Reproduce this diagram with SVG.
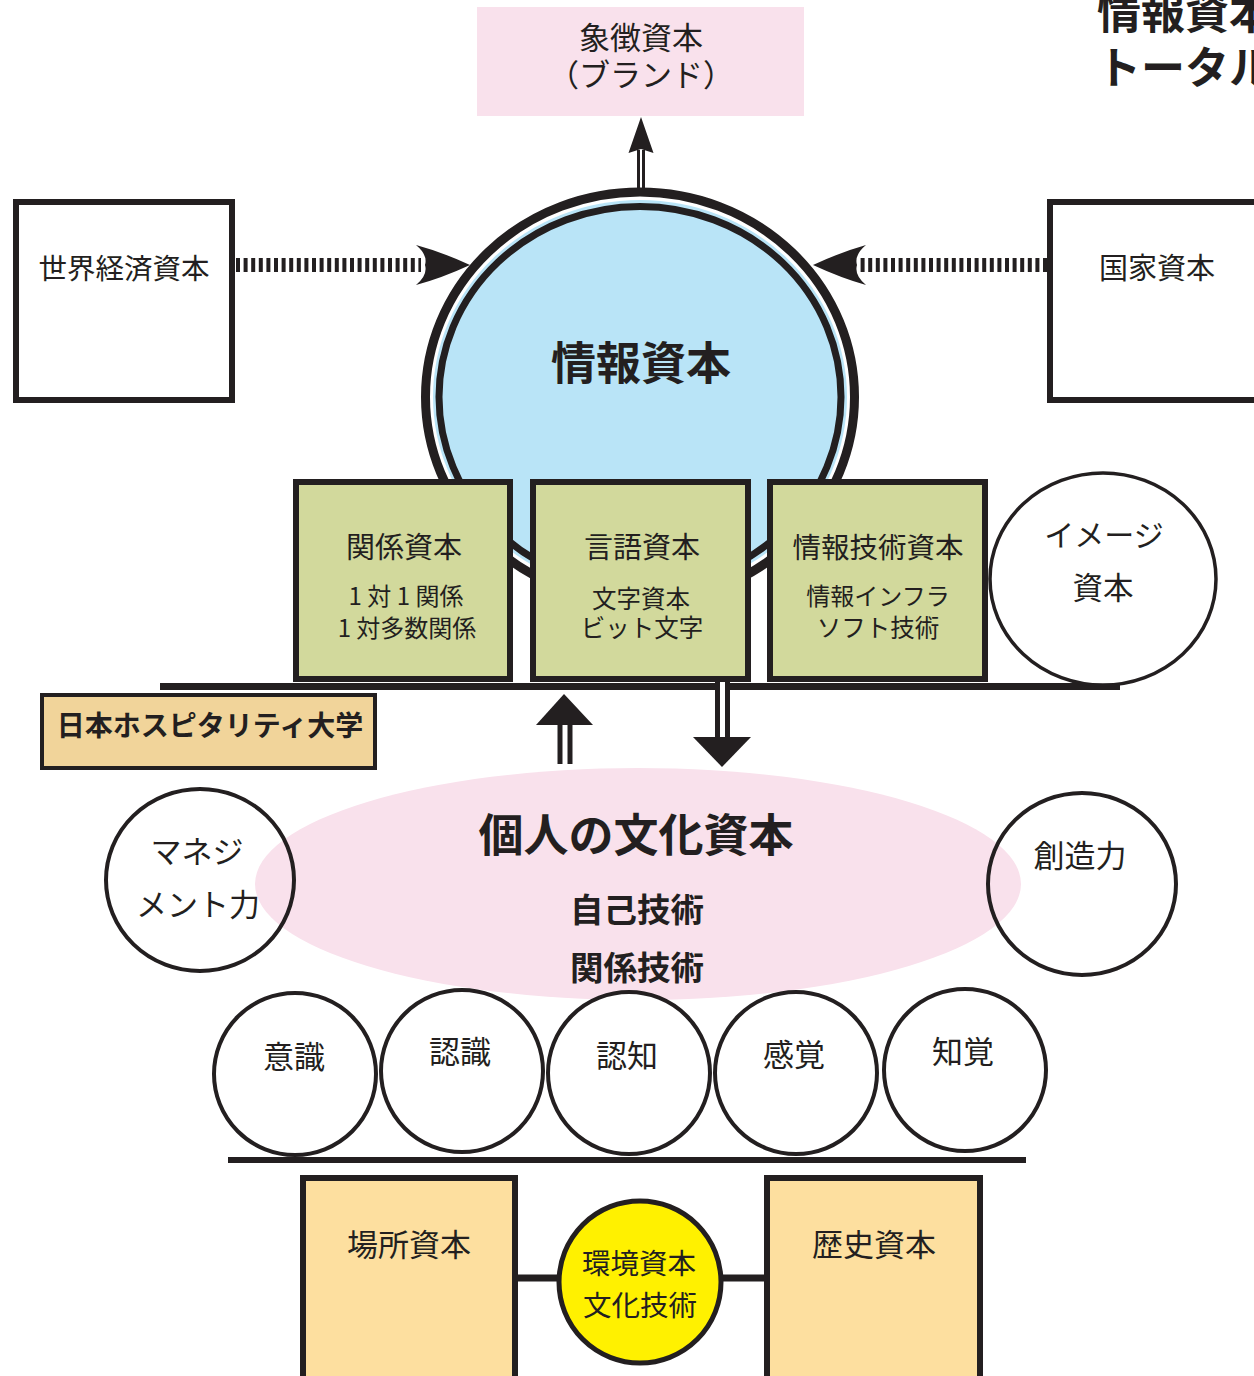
<svg xmlns="http://www.w3.org/2000/svg" width="1254" height="1376" viewBox="0 0 1254 1376">
<style>
text{font-family:"Noto Sans CJK JP","Noto Sans CJK SC",sans-serif;fill:#231F20;text-anchor:middle}
.b{font-weight:700}
.k{stroke:#231F20;fill:none}
.box{stroke:#231F20;stroke-width:6}
.g{fill:#D2D99C}
.c{fill:#fff;stroke:#231F20;stroke-width:4}
.o{fill:none;stroke:#231F20;stroke-width:4}
.ar{fill:#231F20}
</style>
<rect width="1254" height="1376" fill="#fff"/>

<g id="title">
<text class="b" x="1097" y="29" font-size="44" style="text-anchor:start">情報資本</text>
<text class="b" x="1097" y="84" font-size="44" style="text-anchor:start">トータル</text>
</g>

<g id="symbolic">
<rect x="477" y="7" width="327" height="109" fill="#F9E1EC"/>
<text x="641" y="49" font-size="31">象徴資本</text>
<text x="641" y="86" font-size="31">（ブランド）</text>
</g>

<g id="world">
<rect class="box" x="16" y="202" width="216" height="198" fill="#fff"/>
<text x="124" y="279" font-size="28.5">世界経済資本</text>
</g>

<g id="nation">
<rect class="box" x="1050" y="202" width="220" height="198" fill="#fff"/>
<text x="1157" y="279" font-size="29">国家資本</text>
</g>

<g id="info">
<ellipse cx="640" cy="397" rx="214.5" ry="205" fill="#fff" stroke="#231F20" stroke-width="9"/>
<ellipse cx="640" cy="397" rx="207" ry="197" fill="#B9E4F7"/>
<ellipse cx="640" cy="397" rx="201" ry="190.5" fill="#B9E4F7" stroke="#231F20" stroke-width="7"/>
<text class="b" x="641" y="380" font-size="45">情報資本</text>
</g>

<g id="connectors">
<line class="k" x1="236" y1="265" x2="421" y2="265" stroke-width="14" stroke-dasharray="4 3.6"/>
<path class="ar" d="M470,265 Q442,252 416,245 Q428,255 425,265 Q428,275 416,285 Q442,278 470,265 Z"/>
<line class="k" x1="1047" y1="265" x2="858" y2="265" stroke-width="14" stroke-dasharray="4 3.6"/>
<path class="ar" d="M813,265 Q841,252 866,245 Q854,255 857,265 Q854,275 866,285 Q841,278 813,265 Z"/>
<line class="k" x1="638.5" y1="150" x2="638.5" y2="190" stroke-width="3"/>
<line class="k" x1="643.5" y1="150" x2="643.5" y2="190" stroke-width="3"/>
<path class="ar" d="M641,117 L653.5,153 L641,149 L628.5,153 Z"/>
<line class="k" x1="160" y1="686.5" x2="1120" y2="686.5" stroke-width="7"/>
<line class="k" x1="560" y1="723" x2="560" y2="764" stroke-width="5"/>
<line class="k" x1="570" y1="723" x2="570" y2="764" stroke-width="5"/>
<path class="ar" d="M564,694 L593,725 L536,725 Z"/>
<rect x="715" y="679" width="15" height="59" fill="#231F20"/>
<rect x="720" y="681" width="5" height="57" fill="#fff"/>
<path class="ar" d="M693,737 L751,737 L722,767 Z"/>
<line class="k" x1="228" y1="1160" x2="1026" y2="1160" stroke-width="6"/>
<line class="k" x1="513" y1="1278" x2="768" y2="1278" stroke-width="7"/>
</g>

<g id="relation">
<rect class="box g" x="296" y="482" width="214" height="197"/>
<text x="404" y="558" font-size="29">関係資本</text>
<text x="406" y="605" font-size="24">1 対 1 関係</text>
<text x="407" y="637" font-size="24">1 対多数関係</text>
</g>

<g id="language">
<rect class="box g" x="533" y="482" width="215" height="197"/>
<text x="642" y="558" font-size="29">言語資本</text>
<text x="641" y="608" font-size="24.5">文字資本</text>
<text x="642" y="637" font-size="24.5">ビット文字</text>
</g>

<g id="infotech">
<rect class="box g" x="770" y="482" width="215" height="197"/>
<text x="878" y="558" font-size="28.5">情報技術資本</text>
<text x="878" y="605" font-size="24">情報インフラ</text>
<text x="878" y="637" font-size="24.5">ソフト技術</text>
</g>

<g id="image">
<ellipse cx="1103" cy="579" rx="113" ry="106" fill="#fff" stroke="#231F20" stroke-width="3.5"/>
<text x="1104" y="546" font-size="30">イメージ</text>
<text x="1103" y="599" font-size="30.5">資本</text>
</g>

<g id="university">
<rect x="42" y="695" width="333" height="73" fill="#F1D49A" stroke="#231F20" stroke-width="4"/>
<text class="b" x="210" y="736" font-size="28">日本ホスピタリティ大学</text>
</g>

<g id="personal">
<ellipse cx="638" cy="884" rx="383" ry="116" fill="#F9E1EC"/>
<text class="b" x="636" y="852" font-size="45">個人の文化資本</text>
<text class="b" x="637" y="922" font-size="33.5">自己技術</text>
<text class="b" x="637" y="980" font-size="33.5">関係技術</text>
</g>

<g id="management">
<ellipse class="o" cx="200" cy="880" rx="94" ry="91"/>
<text x="197" y="863" font-size="31">マネジ</text>
<text x="198" y="916" font-size="31">メント力</text>
</g>

<g id="creativity">
<ellipse class="o" cx="1082" cy="884" rx="94" ry="91"/>
<text x="1080" y="867" font-size="31">創造力</text>
</g>

<g id="ishiki">
<circle class="c" cx="295" cy="1074" r="81"/>
<text x="294" y="1068" font-size="31">意識</text>
</g>
<g id="ninshiki">
<circle class="c" cx="462" cy="1071" r="81"/>
<text x="460" y="1063" font-size="31">認識</text>
</g>
<g id="ninchi">
<circle class="c" cx="629" cy="1073" r="81"/>
<text x="627" y="1067" font-size="31">認知</text>
</g>
<g id="kankaku">
<circle class="c" cx="796" cy="1073" r="81"/>
<text x="794" y="1066" font-size="31">感覚</text>
</g>
<g id="chikaku">
<circle class="c" cx="965" cy="1070" r="81"/>
<text x="963" y="1063" font-size="31">知覚</text>
</g>

<g id="place">
<rect class="box" x="303" y="1178" width="212" height="220" fill="#FDDF9F"/>
<text x="409" y="1256" font-size="31">場所資本</text>
</g>

<g id="history">
<rect class="box" x="767" y="1178" width="213" height="220" fill="#FDDF9F"/>
<text x="874" y="1256" font-size="31">歴史資本</text>
</g>

<g id="environment">
<circle cx="640" cy="1282" r="81" fill="#FFF100" stroke="#231F20" stroke-width="5"/>
<text x="639" y="1274" font-size="28.5">環境資本</text>
<text x="640" y="1316" font-size="28.5">文化技術</text>
</g>
</svg>
